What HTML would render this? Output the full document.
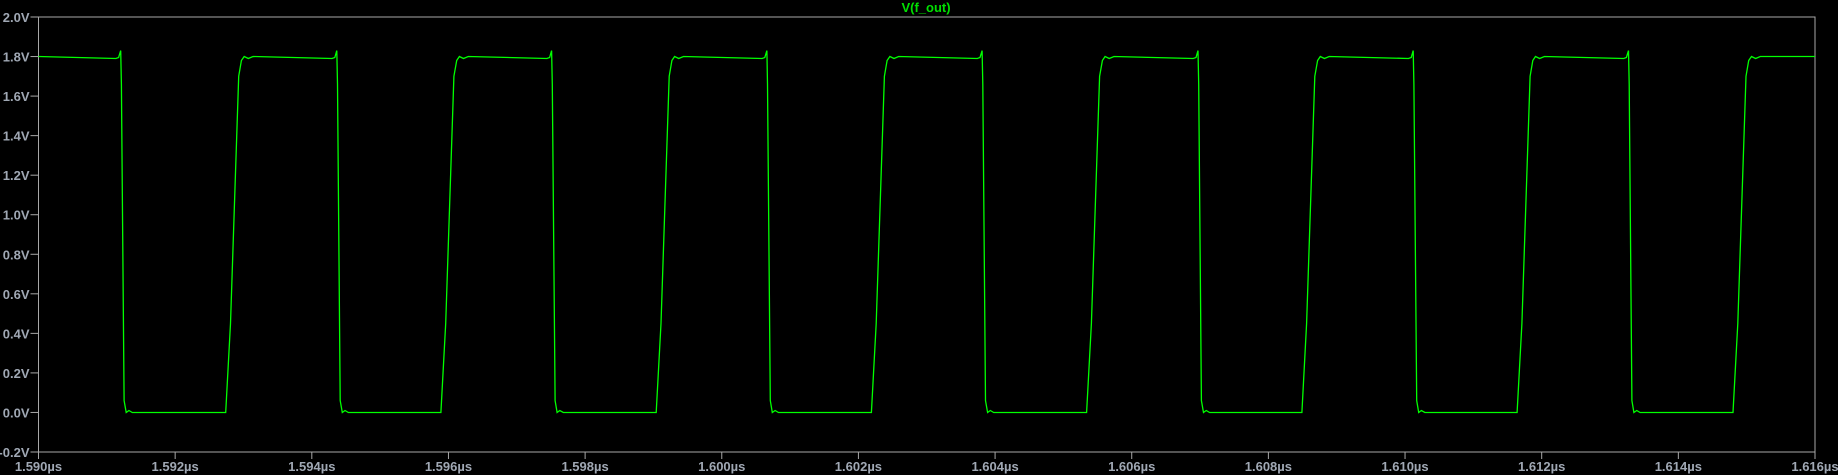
<!DOCTYPE html>
<html><head><meta charset="utf-8"><style>
html,body{margin:0;padding:0;background:#000;}
svg{display:block;}
text{font-family:"Liberation Sans",sans-serif;font-weight:bold;}
</style></head><body>
<svg id="chart" width="1838" height="475" viewBox="0 0 1838 475" xmlns="http://www.w3.org/2000/svg">
<rect width="1838" height="475" fill="#000"/>
<text x="926" y="12" text-anchor="middle" font-size="13" fill="#00e000">V(f_out)</text>
<g id="axes"></g>
<path id="trace" fill="none" stroke="#00ff00" stroke-width="1.3"/>
</svg>
<script>
const yTicks = [-0.2,0.0,0.2,0.4,0.6,0.8,1.0,1.2,1.4,1.6,1.8,2.0];
const yTickLabels = ["-0.2V","0.0V","0.2V","0.4V","0.6V","0.8V","1.0V","1.2V","1.4V","1.6V","1.8V","2.0V"];
const xTicks = [0,2,4,6,8,10,12,14,16,18,20,22,24,26];
const xTickLabels = ["1.590µs","1.592µs","1.594µs","1.596µs","1.598µs","1.600µs","1.602µs","1.604µs","1.606µs","1.608µs","1.610µs","1.612µs","1.614µs","1.616µs"];
const fallT = [1.203,4.366,7.51,10.66,13.81,16.97,20.12,23.27];
const riseT = [2.74,5.89,9.04,12.19,15.34,18.49,21.64,24.80];
const fallShape = [[-0.07,1.79],[-0.03,1.795],[0,1.83],[0.01,1.66],[0.05,0.06],[0.08,0.0],[0.12,0.01],[0.17,0.0]];
const riseShape = [[0,0.0],[0.07,0.45],[0.19,1.70],[0.23,1.78],[0.27,1.80],[0.33,1.79],[0.4,1.80]];

const L=38.5,R=1815,T=17,B=452;
const xS=t=>L+(t/26)*(R-L);
const yS=v=>B-((v+0.2)/2.2)*(B-T);
const NS="http://www.w3.org/2000/svg";
const ax=document.getElementById('axes');
function mk(tag,attrs){const e=document.createElementNS(NS,tag);for(const k in attrs)e.setAttribute(k,attrs[k]);ax.appendChild(e);return e;}
const frame=mk('rect',{x:L,y:T,width:R-L,height:B-T,fill:'none',stroke:'#a8a8a8','stroke-width':1});


yTicks.forEach((v,i)=>{
  const y=yS(v);
  const tk=mk('line',{x1:L-8,x2:L,y1:y,y2:y,stroke:'#a8a8a8'});
  
  
  const tx=mk('text',{x:L-9,y:y+5,'text-anchor':'end','font-size':13,fill:'#a0a8b4'});
  tx.textContent=yTickLabels[i];
  
  
});
xTicks.forEach((t,i)=>{
  const x=xS(t);
  const tk=mk('line',{x1:x,x2:x,y1:B,y2:B+7,stroke:'#a8a8a8'});
  
  
  const tx=mk('text',{x:x,y:B+19,'text-anchor':'middle','font-size':13,fill:'#a0a8b4'});
  tx.textContent=xTickLabels[i];
  
  
});
let pts=[[0,1.8]];
for(let i=0;i<fallT.length;i++){
  fallShape.forEach(p=>pts.push([fallT[i]+p[0],p[1]]));
  if(i<riseT.length) riseShape.forEach(p=>pts.push([riseT[i]+p[0],p[1]]));
}
pts.push([26,1.8]);
document.getElementById('trace').setAttribute('d',pts.map((p,i)=>(i?'L':'M')+xS(p[0]).toFixed(1)+','+yS(p[1]).toFixed(1)).join(''));
</script>
</body></html>
